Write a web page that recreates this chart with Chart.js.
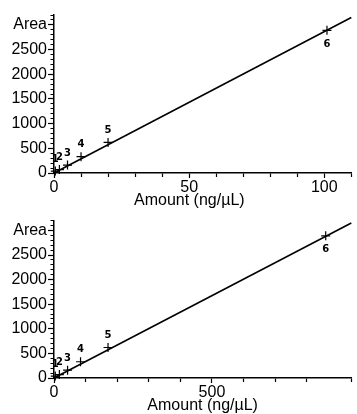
<!DOCTYPE html>
<html>
<head>
<meta charset="utf-8">
<script src="https://cdn.jsdelivr.net/npm/chart.js@4"></script>
<style>
  body { margin: 0; background: #fff; overflow: hidden; }
  .box { position: relative; width: 357px; }
</style>
</head>
<body>
<div class="box" style="height:210px"><canvas id="top-chart"></canvas></div>
<div class="box" style="height:205px"><canvas id="bottom-chart"></canvas></div>
<script>
// calibration points, labels drawn next to each cross
const pointLabels = ['1', '2', '3', '4', '5', '6'];
const amountTop = [0.5, 2, 5, 10, 20, 101];
const amountBottom = [4, 17, 43, 84, 171, 860];
const areaValues = [40, 70, 160, 330, 620, 2890];

// fitted line end points
const fitTopX = [0, 110];
const fitBottomX = [0, 941];
const fitY = [0, 3150];

const xLabelsTop = [0, 50, 100];
const xLabelsBottom = [0, 500];
const yLabels = [0, 500, 1000, 1500, 2000, 2500];
const yTitleAt = 3000;

const FONT = 'Liberation Sans, Arial, sans-serif';
const NB = '\u00a0';

const pointLabelPlugin = {
  id: 'pointLabels',
  afterDatasetsDraw(chart) {
    const ctx = chart.ctx;
    const meta = chart.getDatasetMeta(1);
    ctx.save();
    ctx.fillStyle = '#000';
    ctx.font = 'bold 10px DejaVu Sans';
    ctx.textAlign = 'center';
    ctx.textBaseline = 'middle';
    meta.data.forEach((pt, i) => {
      const dy = i === pointLabels.length - 1 ? 14 : -12;
      ctx.fillText(pointLabels[i], pt.x, pt.y + dy);
    });
    ctx.restore();
  }
};

function makeChart(id, amounts, fitX, xMax, xStep, xLabels, titleText, padTop, axisH) {
  const ctx = document.getElementById(id).getContext('2d');
  return new Chart(ctx, {
    type: 'scatter',
    data: {
      datasets: [{
        data: fitX.map((x, i) => ({ x: x, y: fitY[i] })),
        showLine: true,
        borderColor: '#000',
        borderWidth: 1.6,
        pointRadius: 0
      }, {
        data: amounts.map((x, i) => ({ x: x, y: areaValues[i] })),
        pointStyle: 'cross',
        pointRadius: 4.5,
        borderColor: '#000',
        borderWidth: 1.2
      }]
    },
    options: {
      responsive: true,
      maintainAspectRatio: false,
      animation: false,
      clip: false,
      layout: { padding: { top: padTop, right: 0, left: 0, bottom: 0 } },
      plugins: { legend: { display: false }, tooltip: { enabled: false } },
      scales: {
        x: {
          type: 'linear',
          min: 0,
          max: xMax,
          afterFit: scale => { scale.height = axisH; },
          border: { color: '#000', width: 1.5 },
          grid: {
            drawOnChartArea: false, tickLength: 5, color: '#000', tickWidth: 1.2,
            // short ticks where there is no label
            tickBorderDash: c => (c.tick && xLabels.includes(c.tick.value)) ? [] : [3.5, 10]
          },
          ticks: {
            stepSize: xStep,
            autoSkip: false,
            maxTicksLimit: 100,
            maxRotation: 0,
            padding: 0,
            color: '#000',
            font: { family: FONT, size: 16 },
            callback: v => xLabels.includes(v) ? v : ''
          },
          title: {
            display: true,
            text: titleText,
            color: '#000',
            padding: 0,
            font: { family: FONT, size: 16 }
          }
        },
        y: {
          min: 0,
          max: 3200,
          afterFit: scale => { scale.width = 54; },
          border: { color: '#000', width: 1.5 },
          grid: {
            drawOnChartArea: false, tickLength: 6, color: '#000', tickWidth: 1.2,
            tickBorderDash: c => (c.tick && c.tick.value % 500 === 0) ? [] : [0, 2.5, 10]
          },
          ticks: {
            stepSize: 100,
            autoSkip: false,
            maxTicksLimit: 100,
            padding: 1,
            color: '#000',
            font: { family: FONT, size: 16 },
            callback: v => v === yTitleAt ? 'Area' : (yLabels.includes(v) ? v : '')
          }
        }
      }
    },
    plugins: [pointLabelPlugin]
  });
}

makeChart('top-chart', amountTop, fitTopX, 110, 10, xLabelsTop, 'Amount (ng/µL)' + NB.repeat(6), 15, 37);
makeChart('bottom-chart', amountBottom, fitBottomX, 941, 100, xLabelsBottom, 'Amount (ng/µL)', 10, 37);
</script>
</body>
</html>
